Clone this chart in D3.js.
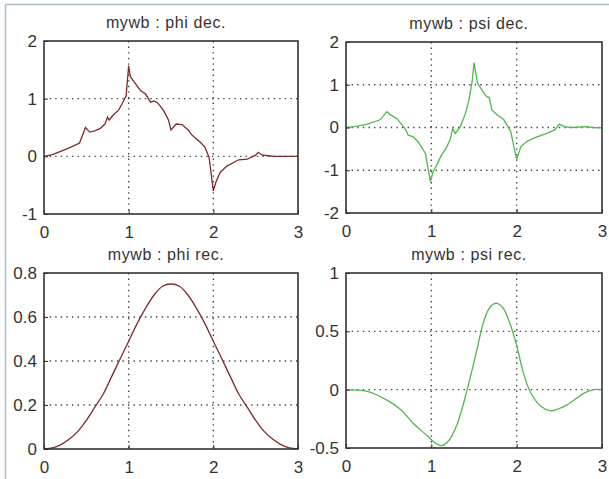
<!DOCTYPE html>
<html>
<head>
  <title>mywb wavelet</title>
  <script src="https://cdn.jsdelivr.net/npm/d3@7"></script>
  <style>
    body { margin: 0; background: #fff; font-family: "Liberation Sans", Arial, sans-serif; }
    svg text { fill: #333; }
  </style>
</head>
<body>
  <div id="chart"></div>
  <script>
    // x values are in [0, 3] for all four panels
    const phiDecX = [0, 0.1, 0.22, 0.35, 0.42, 0.49, 0.54, 0.6, 0.66, 0.72, 0.75, 0.77, 0.82, 0.88, 0.94, 0.97, 1.0, 1.02, 1.06, 1.12, 1.14, 1.2, 1.26, 1.3, 1.34, 1.41, 1.47, 1.5, 1.56, 1.63, 1.71, 1.74, 1.77, 1.85, 1.9, 1.95, 2.0, 2.03, 2.08, 2.16, 2.26, 2.3, 2.4, 2.5, 2.53, 2.58, 2.65, 2.72, 2.8, 3.0];
    const phiDecY = [0, 0.03, 0.1, 0.18, 0.23, 0.5, 0.42, 0.44, 0.48, 0.56, 0.68, 0.63, 0.72, 0.8, 0.96, 1.05, 1.57, 1.38, 1.3, 1.18, 1.14, 1.08, 0.94, 0.96, 0.93, 0.8, 0.63, 0.46, 0.56, 0.55, 0.45, 0.38, 0.34, 0.24, 0.16, -0.02, -0.6, -0.45, -0.28, -0.17, -0.09, -0.06, -0.05, 0.02, 0.07, 0.02, 0.01, 0, 0, 0];

    const psiDecX = [0, 0.1, 0.25, 0.4, 0.48, 0.52, 0.6, 0.69, 0.73, 0.79, 0.85, 0.93, 0.99, 1.02, 1.07, 1.12, 1.17, 1.22, 1.25, 1.28, 1.34, 1.4, 1.44, 1.48, 1.5, 1.54, 1.6, 1.65, 1.68, 1.71, 1.77, 1.85, 1.93, 2.0, 2.05, 2.12, 2.2, 2.36, 2.45, 2.5, 2.56, 2.65, 2.8, 2.9, 3.0];
    const psiDecY = [0, 0.02, 0.08, 0.18, 0.37, 0.3, 0.2, -0.02, -0.18, -0.22, -0.35, -0.6, -1.27, -1.03, -0.85, -0.64, -0.5, -0.29, -0.02, -0.14, 0.02, 0.33, 0.64, 1.1, 1.52, 1.05, 0.85, 0.72, 0.7, 0.41, 0.3, 0.18, -0.09, -0.75, -0.44, -0.33, -0.25, -0.13, -0.05, 0.08, 0.02, 0, 0.02, 0, -0.01];

    const phiRecX = [0, 0.1, 0.2, 0.3, 0.4, 0.5, 0.6, 0.7, 0.8, 0.9, 1.0, 1.1, 1.2, 1.3, 1.4, 1.5, 1.6, 1.7, 1.8, 1.9, 2.0, 2.1, 2.2, 2.3, 2.4, 2.5, 2.6, 2.7, 2.8, 2.9, 3.0];
    const phiRecY = [0, 0.005, 0.02, 0.045, 0.08, 0.13, 0.19, 0.25, 0.33, 0.41, 0.49, 0.57, 0.64, 0.7, 0.74, 0.75, 0.74, 0.7, 0.64, 0.57, 0.49, 0.41, 0.33, 0.25, 0.19, 0.13, 0.08, 0.045, 0.02, 0.005, 0];

    const psiRecX = [0, 0.25, 0.48, 0.64, 0.79, 0.96, 1.05, 1.12, 1.2, 1.3, 1.42, 1.53, 1.62, 1.7, 1.77, 1.84, 1.92, 2.0, 2.08, 2.16, 2.28, 2.39, 2.47, 2.59, 2.79, 2.9, 3.0];
    const psiRecY = [0, -0.015, -0.09, -0.17, -0.29, -0.4, -0.46, -0.48, -0.44, -0.3, 0, 0.33, 0.6, 0.72, 0.74, 0.7, 0.57, 0.38, 0.14, -0.02, -0.14, -0.18, -0.17, -0.13, -0.03, 0, 0];

    const titles = ["mywb : phi dec.", "mywb : psi dec.", "mywb : phi rec.", "mywb : psi rec."];
    const xTicks = [0, 1, 2, 3];
    const yTicks = [[-1, 0, 1, 2], [-2, -1, 0, 1, 2], [0, 0.2, 0.4, 0.6, 0.8], [-0.5, 0, 0.5, 1]];

    const phiColor = "#7d2b2b";
    const psiColor = "#4fb84f";

    const panels = [
      {box: [44, 298, 41, 214], xs: phiDecX, ys: phiDecY, color: phiColor, smooth: false},
      {box: [346, 602, 42, 213], xs: psiDecX, ys: psiDecY, color: psiColor, smooth: false},
      {box: [44, 298, 273, 449], xs: phiRecX, ys: phiRecY, color: phiColor, smooth: true},
      {box: [346, 602, 273, 448], xs: psiRecX, ys: psiRecY, color: psiColor, smooth: true}
    ];

    const svg = d3.select("#chart").append("svg")
      .attr("width", 609).attr("height", 479);

    // window frame lines
    svg.append("line").attr("x1", 5.5).attr("x2", 609).attr("y1", 4.5).attr("y2", 4.5)
      .attr("stroke", "#a7bccb").attr("stroke-width", 1.5);
    svg.append("line").attr("x1", 5.5).attr("x2", 5.5).attr("y1", 4.5).attr("y2", 479)
      .attr("stroke", "#a7bccb").attr("stroke-width", 1.5);

    panels.forEach((p, i) => {
      const [l, r, t, b] = p.box;
      const yt = yTicks[i];
      const x = d3.scaleLinear().domain([0, 3]).range([l, r]);
      const y = d3.scaleLinear().domain([yt[0], yt[yt.length - 1]]).range([b, t]);
      const g = svg.append("g");

      // dotted grid
      g.selectAll(".gx").data(xTicks.slice(1, -1)).join("line")
        .attr("x1", d => x(d)).attr("x2", d => x(d)).attr("y1", t).attr("y2", b)
        .attr("stroke", "#444").attr("stroke-width", 1.4).attr("stroke-dasharray", "1.4,4.2");
      g.selectAll(".gy").data(yt.slice(1, -1)).join("line")
        .attr("x1", l).attr("x2", r).attr("y1", d => y(d)).attr("y2", d => y(d))
        .attr("stroke", "#444").attr("stroke-width", 1.4).attr("stroke-dasharray", "1.4,4.2");

      const line = d3.line()
        .x((d, k) => x(p.xs[k]))
        .y(d => y(d))
        .curve(p.smooth ? d3.curveCatmullRom : d3.curveLinear);
      g.append("path").datum(p.ys)
        .attr("fill", "none").attr("stroke", p.color).attr("stroke-width", 1.3)
        .attr("d", line);

      const ax = g.append("g").attr("transform", `translate(0,${b})`)
        .call(d3.axisBottom(x).tickValues(xTicks).tickSize(-4).tickPadding(12).tickFormat(d3.format("d")));
      const ay = g.append("g").attr("transform", `translate(${l},0)`)
        .call(d3.axisLeft(y).tickValues(yt).tickSize(-4).tickPadding(7).tickFormat(d => String(d)));
      [ax, ay].forEach(a => {
        a.select(".domain").remove();
        a.selectAll(".tick line").attr("stroke", "#333");
        a.selectAll("text").attr("font-size", 17).attr("font-family", "'Liberation Sans', Arial, sans-serif").attr("fill", "#333");
      });

      g.append("rect").attr("x", l).attr("y", t).attr("width", r - l).attr("height", b - t)
        .attr("fill", "none").attr("stroke", "#333").attr("stroke-width", 1.6);

      g.append("text").attr("x", (l + r) / 2 - 5).attr("y", t - 13)
        .attr("text-anchor", "middle").attr("font-size", 16).attr("letter-spacing", 0.6)
        .text(titles[i]);
    });
  </script>
</body>
</html>
